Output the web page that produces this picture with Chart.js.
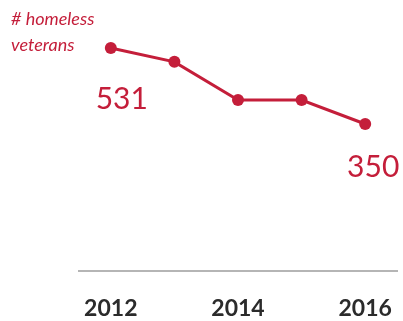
<!DOCTYPE html>
<html>
<head>
<meta charset="utf-8">
<script src="https://cdn.jsdelivr.net/npm/chart.js@4"></script>
<style>
  body { margin: 0; background: #fff; }
  #wrap { width: 403px; height: 321px; }
</style>
</head>
<body>
<div id="wrap"><canvas id="graphique"></canvas></div>
<script>
const years = ["2012", "2013", "2014", "2015", "2016"];
const veterans = [531, 498, 407, 407, 350];
const shownYears = ["2012", "2014", "2016"];

const red = "#C41E3A";

// labels drawn on the first and last point + the y title at top left
const annotations = {
    id: "annotations",
    afterDatasetsDraw(chart) {
        const ctx = chart.ctx;
        const meta = chart.getDatasetMeta(0);
        const first = meta.data[0];
        const last = meta.data[meta.data.length - 1];
        ctx.save();
        ctx.fillStyle = red;
        ctx.textAlign = "center";
        ctx.textBaseline = "alphabetic";
        ctx.font = "30px Lato";
        ctx.fillText(veterans[0], first.x + 11, first.y + 61);
        ctx.fillText(veterans[veterans.length - 1], last.x + 8, last.y + 53);
        ctx.textAlign = "left";
        ctx.font = "italic 18px Lato";
        ctx.fillText("# homeless", 11, 25);
        ctx.fillText("veterans", 11, 51);
        ctx.restore();
    }
};

const config = {
    type: "line",
    data: {
        labels: years,
        datasets: [{
            data: veterans,
            borderColor: red,
            backgroundColor: red,
            borderWidth: 3,
            pointRadius: 6,
            pointBackgroundColor: red,
            pointBorderWidth: 0,
            tension: 0
        }]
    },
    options: {
        responsive: true,
        maintainAspectRatio: false,
        animation: false,
        layout: {
            padding: { left: 79, right: 3, top: 19, bottom: 0 }
        },
        scales: {
            x: {
                offset: true,
                grid: { display: false },
                border: { display: true, color: "#b5b5b5", width: 2 },
                ticks: {
                    color: "#2b2b2b",
                    padding: 16,
                    font: { family: "Lato", size: 23, weight: "bold" },
                    maxRotation: 0,
                    autoSkip: false,
                    callback: function (value) {
                        const label = this.getLabelForValue(value);
                        return shownYears.includes(label) ? label : "";
                    }
                },
                afterFit: function (scale) {
                    scale.height = 50;
                    scale.paddingLeft = 0;
                    scale.paddingRight = 0;
                }
            },
            y: {
                display: false,
                min: 0,
                max: 600
            }
        },
        plugins: {
            legend: { display: false },
            tooltip: { enabled: false }
        }
    },
    plugins: [annotations]
};

const chart = new Chart(document.querySelector("#graphique"), config);
</script>
</body>
</html>
